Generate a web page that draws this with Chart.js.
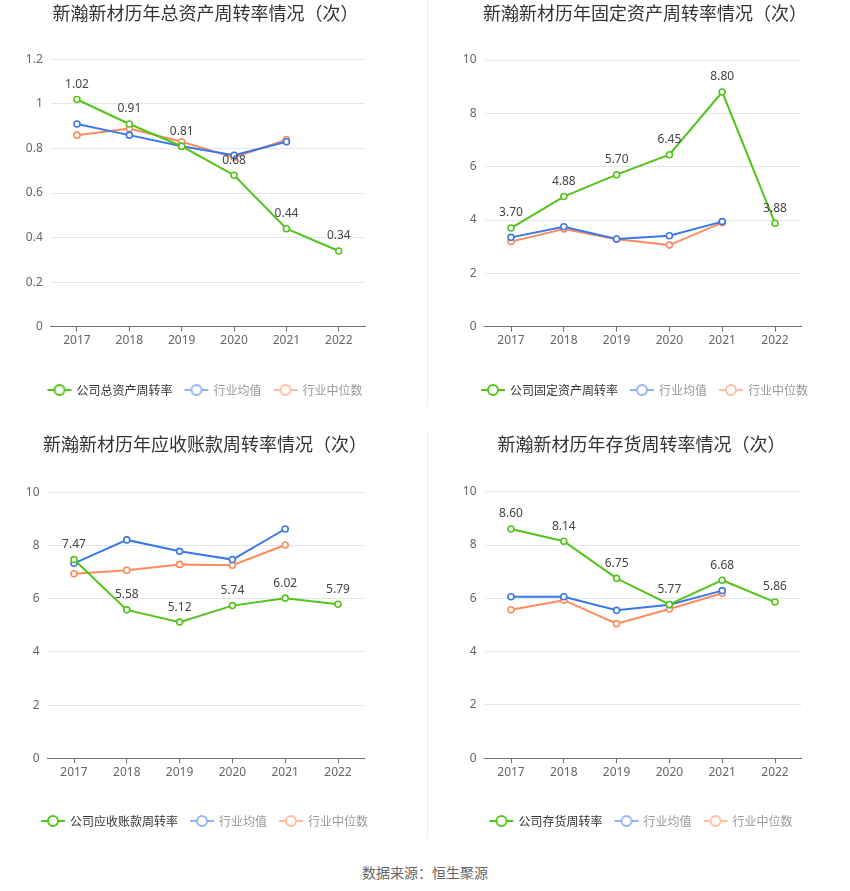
<!DOCTYPE html>
<html>
<head>
<meta charset="utf-8">
<script src="https://cdn.jsdelivr.net/npm/chart.js@4.4.1/dist/chart.umd.min.js"></script>
<style>
  html, body { margin: 0; padding: 0; background: #fff; width: 850px; height: 891px; overflow: hidden; }
  .box { position: absolute; }
  .sep { position: absolute; left: 427px; width: 1px; background: #eeeeee; }
  #source { position: absolute; left: 0; width: 850px; top: 862px; line-height: 20px; text-align: center;
    font: 14px "Noto Sans CJK SC", sans-serif; color: #666; }
</style>
</head>
<body>
<div class="sep" style="top:0;height:407px"></div>
<div class="sep" style="top:431px;height:408px"></div>

<div class="box" style="left:0;top:0;width:411px;height:406px"><canvas id="c1"></canvas></div>
<div class="box" style="left:440px;top:0;width:410px;height:406px"><canvas id="c2"></canvas></div>
<div class="box" style="left:0;top:431px;width:410px;height:406px"><canvas id="c3"></canvas></div>
<div class="box" style="left:436px;top:431px;width:411px;height:406px"><canvas id="c4"></canvas></div>

<div id="source">数据来源：恒生聚源</div>

<script>
// data
const years = ['2017', '2018', '2019', '2020', '2021', '2022'];

const assetCompany = [1.02, 0.91, 0.81, 0.68, 0.44, 0.34];
const assetAvg     = [0.91, 0.86, 0.81, 0.77, 0.83];
const assetMedian  = [0.86, 0.89, 0.83, 0.76, 0.84];

const fixedCompany = [3.70, 4.88, 5.70, 6.45, 8.80, 3.88];
const fixedAvg     = [3.35, 3.75, 3.29, 3.41, 3.94];
const fixedMedian  = [3.19, 3.66, 3.28, 3.06, 3.90];

const recvCompany  = [7.47, 5.58, 5.12, 5.74, 6.02, 5.79];
const recvAvg      = [7.33, 8.21, 7.78, 7.47, 8.62];
const recvMedian   = [6.94, 7.07, 7.29, 7.26, 8.02];

const invCompany   = [8.60, 8.14, 6.75, 5.77, 6.68, 5.86];
const invAvg       = [6.06, 6.06, 5.55, 5.76, 6.29];
const invMedian    = [5.57, 5.93, 5.05, 5.60, 6.19];

const GREEN = '#52c41a', BLUE = '#3a78e8', ORANGE = '#ff8a5c';
const FONT = '"Noto Sans", "Noto Sans CJK SC", sans-serif';
Chart.defaults.font.family = FONT;

function legendIcon(color) {
  const c = document.createElement('canvas');
  c.width = 26; c.height = 14;
  const g = c.getContext('2d');
  g.strokeStyle = color; g.lineWidth = 2;
  g.beginPath(); g.moveTo(1, 7); g.lineTo(25, 7); g.stroke();
  g.beginPath(); g.arc(13, 7, 5, 0, Math.PI * 2);
  g.fillStyle = '#fff'; g.fill(); g.stroke();
  return c;
}
const icons = [legendIcon(GREEN), legendIcon('#93b4f5'), legendIcon('#ffbda2')];

const valueLabels = {
  id: 'valueLabels',
  afterDatasetsDraw(chart) {
    const ctx = chart.ctx;
    const meta = chart.getDatasetMeta(0);
    const data = chart.data.datasets[0].data;
    ctx.save();
    ctx.font = '12px ' + FONT;
    ctx.fillStyle = '#444';
    ctx.textAlign = 'center';
    ctx.textBaseline = 'middle';
    meta.data.forEach((pt, i) => {
      ctx.fillText(data[i].toFixed(2), pt.x, pt.y - 15);
    });
    ctx.restore();
  }
};

const LEG_PAD = 13;

function makeChart(id, title, companyName, company, avg, median, yMax, yStep, yW, rW, areaTop, areaBottom) {
  const H = 406;
  const xH = (H - (22 + LEG_PAD)) - areaBottom;
  const line = (label, data, color) => ({
    label, data,
    borderColor: color, backgroundColor: color,
    borderWidth: 2, pointRadius: 3, pointHoverRadius: 3,
    pointBorderWidth: 1.6, pointBackgroundColor: '#fff', pointBorderColor: color,
    tension: 0
  });
  return new Chart(document.getElementById(id), {
    type: 'line',
    data: {
      labels: years,
      datasets: [
        line(companyName, company, GREEN),
        line('行业均值', avg, BLUE),
        line('行业中位数', median, ORANGE)
      ]
    },
    options: {
      responsive: true,
      maintainAspectRatio: false,
      animation: false,
      layout: { padding: 0 },
      plugins: {
        title: {
          display: true, text: title, color: '#333',
          font: { size: 18, weight: 'normal', family: '"Noto Sans CJK SC", sans-serif' },
          padding: { top: 2.2, bottom: areaTop - 23.8 }
        },
        legend: {
          position: 'bottom',
          labels: {
            usePointStyle: true, pointStyleWidth: 22, padding: LEG_PAD,
            font: { size: 12, family: '"Noto Sans CJK SC", sans-serif' },
            generateLabels(chart) {
              const items = Chart.defaults.plugins.legend.labels.generateLabels(chart);
              items.forEach((it, i) => {
                it.pointStyle = icons[i];
                it.fontColor = i === 0 ? '#333' : '#999';
              });
              return items;
            }
          }
        },
        tooltip: { enabled: false }
      },
      scales: {
        x: {
          offset: true,
          grid: { drawOnChartArea: false, tickLength: 5, tickColor: '#6e7079' },
          border: { color: '#6e7079' },
          ticks: { color: '#666', font: { size: 12 }, padding: 2 },
          afterFit(s) { s.height = xH; }
        },
        y: {
          min: 0, max: yMax,
          grid: { color: '#e0e6f1', drawTicks: false },
          border: { display: false },
          ticks: {
            stepSize: yStep, color: '#666', font: { size: 12 }, padding: 8,
            callback: v => String(parseFloat(v.toFixed(1)))
          },
          afterFit(s) { s.width = yW; }
        },
        r: {
          position: 'right', display: true,
          grid: { display: false }, border: { display: false }, ticks: { display: false },
          afterFit(s) { s.width = rW; }
        }
      }
    },
    plugins: [valueLabels]
  });
}

makeChart('c1', '新瀚新材历年总资产周转率情况（次）', '公司总资产周转率',
  assetCompany, assetAvg, assetMedian, 1.2, 0.2, 50.8, 46, 59.4, 326.7);
makeChart('c2', '新瀚新材历年固定资产周转率情况（次）', '公司固定资产周转率',
  fixedCompany, fixedAvg, fixedMedian, 10, 2, 44.6, 48.6, 60, 326.7);
makeChart('c3', '新瀚新材历年应收账款周转率情况（次）', '公司应收账款周转率',
  recvCompany, recvAvg, recvMedian, 10, 2, 47.6, 45.6, 61.3, 327.3);
makeChart('c4', '新瀚新材历年存货周转率情况（次）', '公司存货周转率',
  invCompany, invAvg, invMedian, 10, 2, 48.6, 45.6, 60.7, 327.3);
</script>
</body>
</html>
